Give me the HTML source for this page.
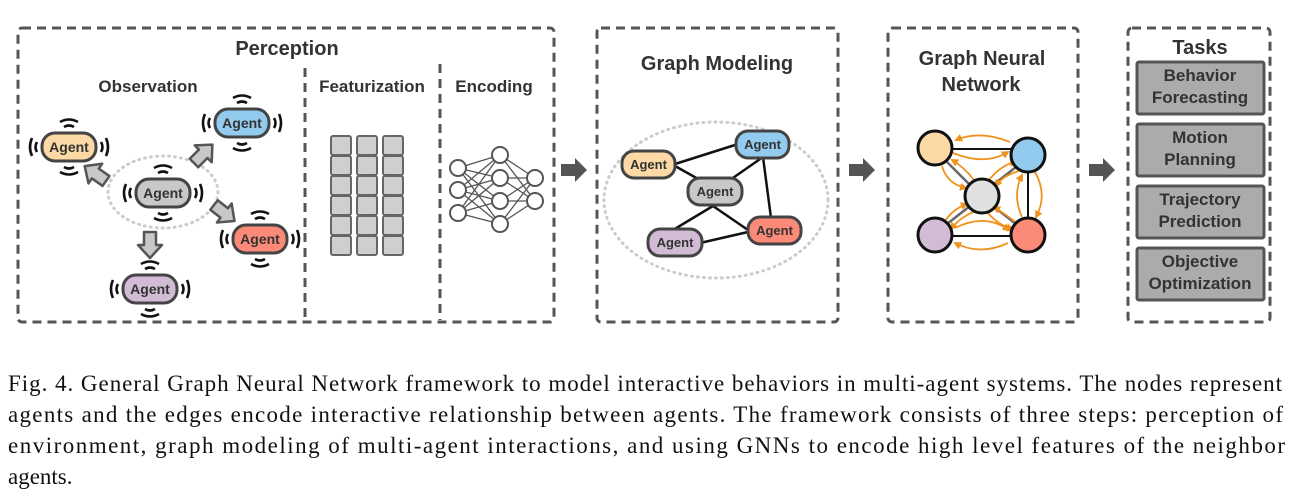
<!DOCTYPE html>
<html><head><meta charset="utf-8"><style>
html,body{margin:0;padding:0;background:#fff;width:1300px;height:499px;overflow:hidden}
svg{display:block}
.t{font-family:"Liberation Sans",Arial,sans-serif;font-weight:bold;fill:#333}
.box{fill:none;stroke:#555;stroke-width:3;stroke-dasharray:9,6}
.ag{stroke:#444;stroke-width:3}
.cap{font-family:"Liberation Serif",serif;font-size:23px;fill:#111}
.w{fill:none;stroke:#111;stroke-width:2.6}
</style></head><body>
<svg width="1300" height="499" viewBox="0 0 1300 499" xmlns="http://www.w3.org/2000/svg">
<defs>
<marker id="oa" markerWidth="8" markerHeight="8" refX="6" refY="4" orient="auto" markerUnits="userSpaceOnUse"><path d="M0,0 L8,4 L0,8z" fill="#f0921e"/></marker>
<g id="sig">
<path class="w" d="M-5,-20 Q0,-23 5,-20 M-9,-25 Q0,-30 9,-25 M-5,20 Q0,23 5,20 M-9,25 Q0,30 9,25"/>
<path class="w" d="M-32,-5 Q-35,0 -32,5 M-37,-9 Q-41,0 -37,9 M32,-5 Q35,0 32,5 M37,-9 Q41,0 37,9"/>
</g>
<path id="fat" d="M0,-6 L14,-6 L14,-12 L26,0 L14,12 L14,6 L0,6z" fill="#555"/>
<path id="ga" d="M0,-6 L13,-6 L13,-12 L26,0 L13,12 L13,6 L0,6z"/>
</defs>

<!-- Perception -->
<rect class="box" x="18" y="28" width="536" height="294" rx="4"/>
<line x1="305" y1="68" x2="305" y2="320" stroke="#555" stroke-width="3" stroke-dasharray="9,6"/>
<line x1="440" y1="64" x2="440" y2="320" stroke="#555" stroke-width="3" stroke-dasharray="9,6"/>
<text class="t" x="287" y="55" font-size="20" text-anchor="middle">Perception</text>
<text class="t" x="148" y="92" font-size="17" text-anchor="middle">Observation</text>
<text class="t" x="372" y="92" font-size="17" text-anchor="middle">Featurization</text>
<text class="t" x="494" y="92" font-size="17" text-anchor="middle">Encoding</text>

<ellipse cx="163" cy="192" rx="55" ry="36" fill="none" stroke="#ccc" stroke-width="3" stroke-dasharray="1,5" stroke-linecap="round"/>
<g fill="#c8c8c8" stroke="#555" stroke-width="2.5" stroke-linejoin="round">
<use href="#ga" transform="translate(106,181) rotate(-145)"/>
<use href="#ga" transform="translate(194,163) rotate(-45)"/>
<use href="#ga" transform="translate(214,205) rotate(38)"/>
<use href="#ga" transform="translate(150,232) rotate(90)"/>
</g>
<g transform="translate(69,147)"><use href="#sig"/><rect class="ag" x="-27" y="-14" width="54" height="28" rx="13" fill="#fdd9a6"/><text class="t" y="5" font-size="14" text-anchor="middle">Agent</text></g>
<g transform="translate(242,123)"><use href="#sig"/><rect class="ag" x="-27" y="-14" width="54" height="28" rx="13" fill="#93cbee"/><text class="t" y="5" font-size="14" text-anchor="middle">Agent</text></g>
<g transform="translate(163,193)"><use href="#sig"/><rect class="ag" x="-27" y="-14" width="54" height="28" rx="13" fill="#c8c8c8"/><text class="t" y="5" font-size="14" text-anchor="middle">Agent</text></g>
<g transform="translate(260,239)"><use href="#sig"/><rect class="ag" x="-27" y="-14" width="54" height="28" rx="13" fill="#fb8a79"/><text class="t" y="5" font-size="14" text-anchor="middle">Agent</text></g>
<g transform="translate(150,289)"><use href="#sig"/><rect class="ag" x="-27" y="-14" width="54" height="28" rx="13" fill="#d2bcd5"/><text class="t" y="5" font-size="14" text-anchor="middle">Agent</text></g>

<!-- feature grid -->
<g fill="#cfcfcf" stroke="#666" stroke-width="2">
<rect x="331" y="136" width="20" height="19" rx="2"/><rect x="331" y="156" width="20" height="19" rx="2"/><rect x="331" y="176" width="20" height="19" rx="2"/><rect x="331" y="196" width="20" height="19" rx="2"/><rect x="331" y="216" width="20" height="19" rx="2"/><rect x="331" y="236" width="20" height="19" rx="2"/>
<rect x="357" y="136" width="20" height="19" rx="2"/><rect x="357" y="156" width="20" height="19" rx="2"/><rect x="357" y="176" width="20" height="19" rx="2"/><rect x="357" y="196" width="20" height="19" rx="2"/><rect x="357" y="216" width="20" height="19" rx="2"/><rect x="357" y="236" width="20" height="19" rx="2"/>
<rect x="383" y="136" width="20" height="19" rx="2"/><rect x="383" y="156" width="20" height="19" rx="2"/><rect x="383" y="176" width="20" height="19" rx="2"/><rect x="383" y="196" width="20" height="19" rx="2"/><rect x="383" y="216" width="20" height="19" rx="2"/><rect x="383" y="236" width="20" height="19" rx="2"/>
</g>
<!-- NN -->
<g stroke="#555" stroke-width="1.3">
<path d="M458,168L500,155M458,168L500,178M458,168L500,201M458,168L500,224M458,190L500,155M458,190L500,178M458,190L500,201M458,190L500,224M458,213L500,155M458,213L500,178M458,213L500,201M458,213L500,224M500,155L535,178M500,155L535,201M500,178L535,178M500,178L535,201M500,201L535,178M500,201L535,201M500,224L535,178M500,224L535,201"/>
</g>
<g fill="#fff" stroke="#555" stroke-width="2">
<circle cx="458" cy="168" r="8"/><circle cx="458" cy="190" r="8"/><circle cx="458" cy="213" r="8"/>
<circle cx="500" cy="155" r="8"/><circle cx="500" cy="178" r="8"/><circle cx="500" cy="201" r="8"/><circle cx="500" cy="224" r="8"/>
<circle cx="535" cy="178" r="8"/><circle cx="535" cy="201" r="8"/>
</g>

<use href="#fat" x="561" y="170"/>

<!-- Graph modeling -->
<rect class="box" x="597" y="28" width="241" height="294" rx="4"/>
<text class="t" x="717" y="70" font-size="20" text-anchor="middle">Graph Modeling</text>
<ellipse cx="716" cy="200" rx="112" ry="78" fill="none" stroke="#ccc" stroke-width="3" stroke-dasharray="1,5" stroke-linecap="round"/>
<g stroke="#111" stroke-width="2.5">
<line x1="675" y1="164" x2="735" y2="145"/><line x1="675" y1="166" x2="700" y2="180"/>
<line x1="730" y1="180" x2="763" y2="157"/><line x1="763" y1="157" x2="771" y2="218"/>
<line x1="713" y1="206" x2="673" y2="230"/><line x1="713" y1="206" x2="748" y2="230"/>
<line x1="700" y1="243" x2="748" y2="232"/>
</g>
<g><rect class="ag" x="622" y="151" width="53" height="27" rx="12" fill="#fdd9a6"/><text class="t" x="648.5" y="169" font-size="13" text-anchor="middle">Agent</text></g>
<g><rect class="ag" x="736" y="131" width="53" height="27" rx="12" fill="#93cbee"/><text class="t" x="762.5" y="149" font-size="13" text-anchor="middle">Agent</text></g>
<g><rect class="ag" x="688" y="178" width="54" height="27" rx="12" fill="#c8c8c8"/><text class="t" x="715" y="196" font-size="13" text-anchor="middle">Agent</text></g>
<g><rect class="ag" x="748" y="217" width="53" height="27" rx="12" fill="#fb8a79"/><text class="t" x="774.5" y="235" font-size="13" text-anchor="middle">Agent</text></g>
<g><rect class="ag" x="648" y="229" width="54" height="27" rx="12" fill="#d2bcd5"/><text class="t" x="675" y="247" font-size="13" text-anchor="middle">Agent</text></g>

<use href="#fat" x="849" y="170"/>

<!-- GNN -->
<rect class="box" x="888" y="28" width="190" height="294" rx="4"/>
<text class="t" x="982" y="65" font-size="20" text-anchor="middle">Graph Neural</text>
<text class="t" x="981" y="91" font-size="20" text-anchor="middle">Network</text>
<g stroke="#111" stroke-width="2"><line x1="950" y1="149" x2="1012" y2="149"/><line x1="1028" y1="170" x2="1028" y2="220"/><line x1="952" y1="236" x2="1012" y2="236"/></g>
<g stroke="#666" stroke-width="2.5"><line x1="947" y1="162" x2="970" y2="185"/><line x1="1016" y1="167" x2="993" y2="185"/><line x1="947" y1="224" x2="970" y2="206"/><line x1="1016" y1="224" x2="993" y2="206"/></g>
<g fill="none" stroke="#f0921e" stroke-width="1.8" marker-end="url(#oa)">
<path d="M1010,142 Q980,130 956,140"/><path d="M953,153 Q985,166 1008,152"/>
<path d="M955,228 Q985,213 1009,230"/><path d="M1008,243 Q980,256 955,243"/>
<path d="M1035,172 Q1048,195 1036,217"/><path d="M1022,217 Q1012,195 1022,175"/>
<path d="M942,166 Q947,184 966,188"/><path d="M974,180 Q964,167 952,160"/>
<path d="M1019,171 Q1002,176 996,186"/><path d="M988,181 Q1002,164 1016,162"/>
<path d="M945,221 Q953,209 967,204"/><path d="M976,211 Q960,217 951,229"/>
<path d="M1018,224 Q1004,213 994,207"/><path d="M987,212 Q999,226 1013,229"/>
</g>
<g stroke="#111" stroke-width="3">
<circle cx="935" cy="148" r="17" fill="#fdd9a6"/><circle cx="1028" cy="155" r="17" fill="#93cbee"/>
<circle cx="982" cy="196" r="17" fill="#e0e0e0"/><circle cx="935" cy="235" r="17" fill="#d2bcd5"/><circle cx="1028" cy="235" r="17" fill="#fb8a79"/>
</g>

<use href="#fat" x="1089" y="170"/>

<!-- Tasks -->
<rect class="box" x="1128" y="28" width="142" height="294" rx="4"/>
<text class="t" x="1200" y="54" font-size="20" text-anchor="middle">Tasks</text>
<g fill="#ababab" stroke="#555" stroke-width="3">
<rect x="1137" y="62" width="127" height="52" rx="2"/><rect x="1137" y="124" width="127" height="52" rx="2"/><rect x="1137" y="186" width="127" height="52" rx="2"/><rect x="1137" y="248" width="127" height="52" rx="2"/>
</g>
<g class="t" font-size="17" text-anchor="middle">
<text x="1200" y="81">Behavior</text><text x="1200" y="103">Forecasting</text>
<text x="1200" y="143">Motion</text><text x="1200" y="165">Planning</text>
<text x="1200" y="205">Trajectory</text><text x="1200" y="227">Prediction</text>
<text x="1200" y="267">Objective</text><text x="1200" y="289">Optimization</text>
</g>

<!-- caption -->
<text class="cap" x="8" y="391" textLength="1274" lengthAdjust="spacing">Fig. 4.  General Graph Neural Network framework to model interactive behaviors in multi-agent systems. The nodes represent</text>
<text class="cap" x="8" y="422" textLength="1275" lengthAdjust="spacing">agents and the edges encode interactive relationship between agents. The framework consists of three steps: perception of</text>
<text class="cap" x="8" y="453" textLength="1277" lengthAdjust="spacing">environment, graph modeling of multi-agent interactions, and using GNNs to encode high level features of the neighbor</text>
<text class="cap" x="8" y="484">agents.</text>
</svg>
</body></html>
